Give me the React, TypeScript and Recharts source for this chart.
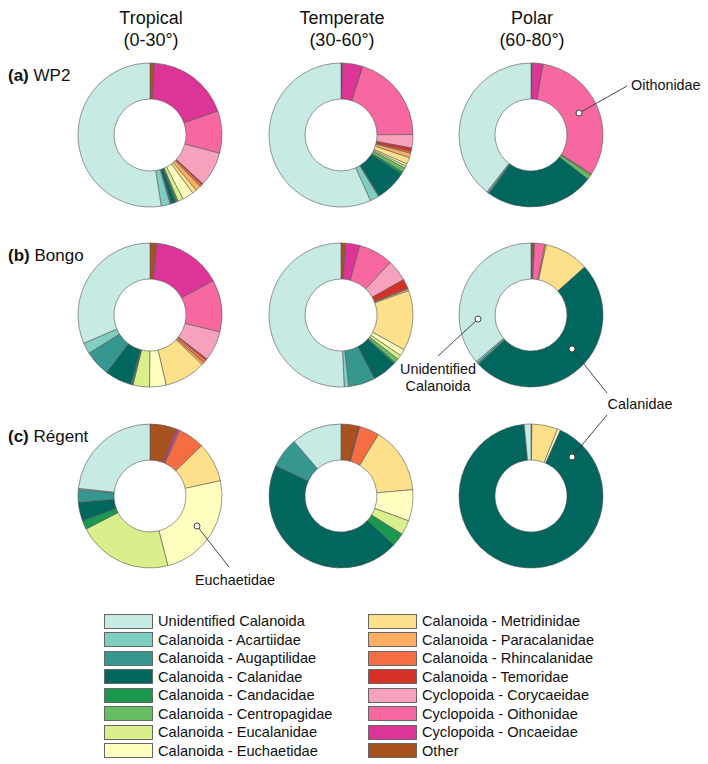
import { PieChart, Pie, Cell, Legend } from "recharts";

const categories = [
  "Unidentified Calanoida",
  "Calanoida - Acartiidae",
  "Calanoida - Augaptilidae",
  "Calanoida - Calanidae",
  "Calanoida - Candacidae",
  "Calanoida - Centropagidae",
  "Calanoida - Eucalanidae",
  "Calanoida - Euchaetidae",
  "Calanoida - Metridinidae",
  "Calanoida - Paracalanidae",
  "Calanoida - Rhincalanidae",
  "Calanoida - Temoridae",
  "Cyclopoida - Corycaeidae",
  "Cyclopoida - Oithonidae",
  "Cyclopoida - Oncaeidae",
  "Other",
];

const colors = [
  "#c7eae5", "#80cdc1", "#35978f", "#01665e", "#1a9850", "#66bd63", "#d9ef8b", "#ffffbf",
  "#fee08b", "#fdae61", "#f46d43", "#d73027", "#f7a1bd", "#f768a1", "#dd3497", "#a8531f",
];

const zones = ["Tropical", "Temperate", "Polar"];
const zoneRanges = ["(0-30°)", "(30-60°)", "(60-80°)"];
const rowTags = ["(a)", "(b)", "(c)"];
const nets = ["WP2", "Bongo", "Régent"];

// % of abundance, same order as categories
const tropicalWP2 = [52.5, 2, 0.3, 1, 0.3, 0.3, 1.2, 2.5, 1, 1.2, 0.5, 0.3, 7.8, 9.5, 18.6, 1];
const temperateWP2 = [56.7, 2, 0.2, 7, 0.5, 1, 0.5, 0.5, 1.5, 1, 0.4, 0.8, 3, 20, 4.6, 0.3];
const polarWP2 = [39.5, 0.3, 0.3, 24.4, 0, 1, 0, 0, 0.2, 0.2, 0, 0, 0, 31.4, 2.4, 0.3];
const tropicalBongo = [31.4, 2.5, 5.8, 6, 0.3, 0.2, 3.7, 3.7, 9.3, 0.5, 0.8, 0.3, 6.7, 11.7, 15.6, 1.5];
const temperateBongo = [50.7, 1, 6, 5.5, 0.3, 1, 1, 1.5, 13.5, 0.4, 0.2, 2.1, 4.8, 7.8, 3.2, 1];
const polarBongo = [36.2, 0.4, 0.4, 49.6, 0, 0, 0, 0, 10, 0.3, 0, 0, 0, 2.3, 0.3, 0.5];
const tropicalRegent = [23.3, 0.3, 2.8, 4.2, 2, 0, 21.4, 24.4, 8.9, 0, 5.9, 0, 0, 0.3, 0.5, 6];
const temperateRegent = [11.3, 0, 6.8, 45, 3, 0, 3.3, 7, 14.9, 0, 4.5, 0.3, 0, 0, 0, 3.9];
const polarRegent = [1.5, 0, 0, 91.8, 0, 0, 0, 0.7, 5.8, 0, 0, 0, 0, 0, 0, 0.2];

const grid = [
  [tropicalWP2, temperateWP2, polarWP2],
  [tropicalBongo, temperateBongo, polarBongo],
  [tropicalRegent, temperateRegent, polarRegent],
];

const W = 708;
const H = 764;
const colX = [150, 341, 531];
const rowY = [135, 315, 496];
const font = "'Liberation Sans', Arial, sans-serif";

// pie runs clockwise from 12 o'clock, starting with "Other"
const toSlices = (values: number[]) =>
  values
    .map((value, i) => ({ name: categories[i], value, idx: i }))
    .filter(d => d.value > 0)
    .reverse();

function LegendBox() {
  const half = 8;
  return (
    <div style={{ position: "relative", width: W, height: 146, fontFamily: font, fontSize: 14.6, color: "#111" }}>
      {categories.map((name, i) => {
        const col = i < half ? 0 : 1;
        const row = i % half;
        return (
          <div
            key={name}
            style={{ position: "absolute", left: col === 0 ? 104 : 368, top: row * 18.5, height: 18, lineHeight: "18px", display: "flex", alignItems: "center", whiteSpace: "nowrap" }}
          >
            <span style={{ display: "inline-block", width: 47, height: 13, background: colors[i], border: "1px solid #666", marginRight: 5 }} />
            {name}
          </div>
        );
      })}
    </div>
  );
}

export default function App() {
  return (
    <div style={{ position: "fixed", left: 0, top: 0, width: W, height: H, overflow: "hidden", background: "#fff" }}>
      <PieChart width={W} height={H} margin={{ top: 0, right: 0, bottom: 0, left: 0 }}>
        {grid.map((row, r) =>
          row.map((values, c) => (
            <Pie
              key={`${r}-${c}`}
              data={toSlices(values)}
              dataKey="value"
              nameKey="name"
              cx={colX[c]}
              cy={rowY[r]}
              innerRadius={36}
              outerRadius={72}
              startAngle={90}
              endAngle={-270}
              stroke="#555"
              strokeWidth={0.6}
              isAnimationActive={false}
              legendType="none"
            >
              {toSlices(values).map(d => (
                <Cell key={d.name} fill={colors[d.idx]} />
              ))}
            </Pie>
          ))
        )}
        <Legend
          content={() => <LegendBox />}
          wrapperStyle={{ position: "absolute", left: 0, top: 612, bottom: "auto", width: W, overflow: "visible" }}
        />
      </PieChart>
      <svg width={W} height={H} style={{ position: "absolute", left: 0, top: 0, pointerEvents: "none" }} fontFamily={font}>
        {zones.map((z, i) => (
          <g key={z} fill="#111">
            <text x={colX[i] + 1} y={18} fontSize={18} textAnchor="middle" dominantBaseline="central">{z}</text>
            <text x={colX[i] + 1} y={40} fontSize={18} textAnchor="middle" dominantBaseline="central">{zoneRanges[i]}</text>
          </g>
        ))}
        {nets.map((n, i) => (
          <text key={n} x={8} y={rowY[i] - 60} fontSize={17} dominantBaseline="central" fill="#111">
            <tspan fontWeight="bold">{rowTags[i]}</tspan> {n}
          </text>
        ))}
        <g stroke="#333" strokeWidth={0.9}>
          <line x1={579} y1={113} x2={627} y2={86} />
          <line x1={478} y1={319} x2={438} y2={356} />
          <line x1={572} y1={349} x2={607} y2={393} />
          <line x1={607} y1={415} x2={572} y2={457} />
          <line x1={197} y1={526} x2={229} y2={567} />
        </g>
        <g fill="#fff" stroke="#333" strokeWidth={0.9}>
          <circle cx={579} cy={113} r={3} />
          <circle cx={478} cy={319} r={3} />
          <circle cx={572} cy={349} r={3} />
          <circle cx={572} cy={457} r={3} />
          <circle cx={197} cy={526} r={3} />
        </g>
        <g fill="#111" fontSize={14.4}>
          <text x={631} y={85} dominantBaseline="central">Oithonidae</text>
          <text x={438} y={369} textAnchor="middle" dominantBaseline="central">Unidentified</text>
          <text x={438} y={386} textAnchor="middle" dominantBaseline="central">Calanoida</text>
          <text x={640} y={404} textAnchor="middle" dominantBaseline="central">Calanidae</text>
          <text x={235} y={580} textAnchor="middle" dominantBaseline="central">Euchaetidae</text>
        </g>
      </svg>
    </div>
  );
}
